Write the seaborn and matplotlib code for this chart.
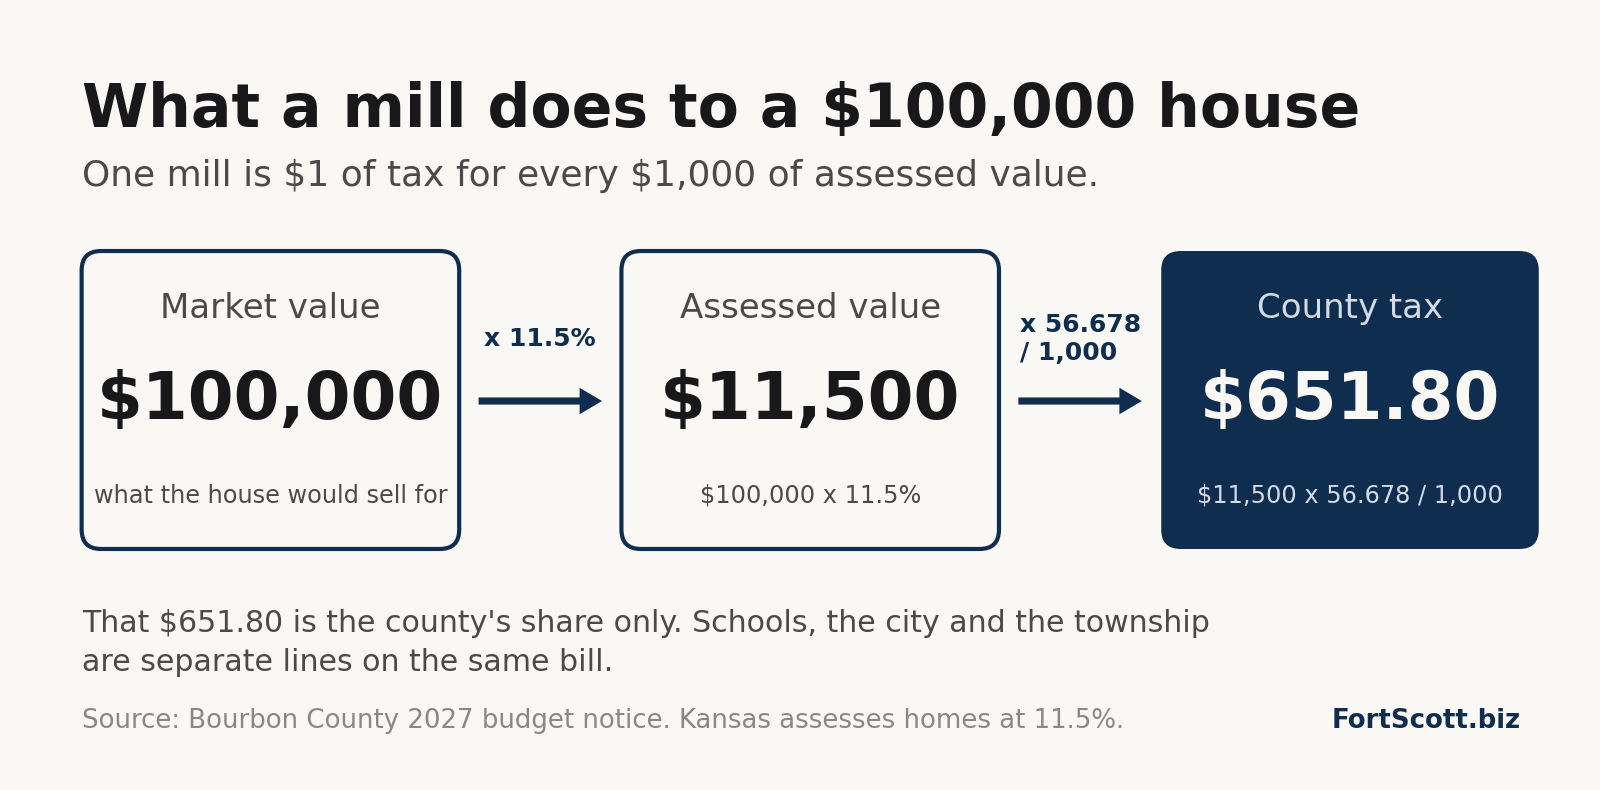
import numpy as np
import pandas as pd
import seaborn as sns
import matplotlib.pyplot as plt
from matplotlib.patches import FancyBboxPatch, FancyArrow

# ---------------------------
# Donnees
stage_labels = ["Market value", "Assessed value", "County tax"]
stage_values = [100000, 11500, 651.80]
stage_notes = ["what the house would sell for", "$100,000 x 11.5%", "$11,500 x 56.678 / 1,000"]
step_labels = ["x 11.5%", "x 56.678\n/ 1,000"]

title = "What a mill does to a $100,000 house"
subtitle = "One mill is $1 of tax for every $1,000 of assessed value."
footnote = ("That $651.80 is the county's share only. Schools, the city and the township\n"
            "are separate lines on the same bill.")
source = "Source: Bourbon County 2027 budget notice. Kansas assesses homes at 11.5%."
brand = "FortScott.biz"

# couleurs
BG = "#f9f8f4"
NAVY = "#0f2d4f"
INK = "#18181b"
GREY = "#4a4a4a"
LIGHT = "#888888"
PALE = "#d3dbe6"

sns.set_theme(style="white", rc={"figure.facecolor": BG, "axes.facecolor": BG})
plt.rcParams['font.family'] = ['DejaVu Sans']
plt.rcParams['text.parse_math'] = False


def fmt_money(v):
    return f"${v:,.0f}" if v >= 1000 else f"${v:,.2f}"


def pt(px):
    # taille en pixels -> points (dpi 100)
    return px * 0.72


fig = plt.figure(figsize=(16, 7.9), dpi=100)
ax = fig.add_axes([0, 0, 1, 1])
# repere de travail : 1568 x 774
W, H = 1568, 774.2
ax.set_xlim(0, W)
ax.set_ylim(H, 0)
ax.axis("off")

# titres
ax.text(80, 124, title, fontsize=pt(60), fontweight="bold", color=INK, ha="left", va="baseline")
ax.text(80, 182, subtitle, fontsize=pt(36), color=GREY, ha="left", va="baseline")

# boites
box_x0, box_w, gap = 80, 370, 159
box_top, box_h = 246, 292
cy = 393

df = pd.DataFrame({"label": stage_labels, "value": stage_values, "note": stage_notes})
for i, row in df.iterrows():
    x0 = box_x0 + i * (box_w + gap)
    last = i == len(df) - 1
    face = NAVY if last else BG
    patch = FancyBboxPatch((x0, box_top), box_w, box_h,
                           boxstyle="round,pad=0,rounding_size=19",
                           facecolor=face, edgecolor=NAVY, linewidth=3 if not last else 0)
    ax.add_patch(patch)
    xc = x0 + box_w / 2
    ax.text(xc, 302, row["label"], fontsize=pt(34), color=PALE if last else GREY,
            ha="center", va="center")
    ax.text(xc, cy, fmt_money(row["value"]), fontsize=pt(66), fontweight="bold",
            color=BG if last else INK, ha="center", va="center")
    ax.text(xc, 486, row["note"], fontsize=pt(24), color=PALE if last else GREY,
            ha="center", va="center")

# fleches entre les boites
for i, lab in enumerate(step_labels):
    left = box_x0 + i * (box_w + gap) + box_w
    right = left + gap
    xc = (left + right) / 2
    arr = FancyArrow(left + 19, cy, gap - 38, 0, width=7, head_width=26, head_length=22,
                     length_includes_head=True, color=NAVY, linewidth=0)
    ax.add_patch(arr)
    ax.text(xc, 332, lab, fontsize=pt(25), fontweight="bold", color=NAVY,
            ha="center", va="center", multialignment="left", linespacing=1.2)

# notes de bas
ax.text(80, 630, footnote, fontsize=pt(30), color=GREY, ha="left", va="center", linespacing=1.45)
ax.text(80, 707, source, fontsize=pt(26), color=LIGHT, ha="left", va="center")
ax.text(1490, 707, brand, fontsize=pt(26), fontweight="bold", color=NAVY, ha="right", va="center")

fig.savefig("out.png", dpi=100, facecolor=BG)
